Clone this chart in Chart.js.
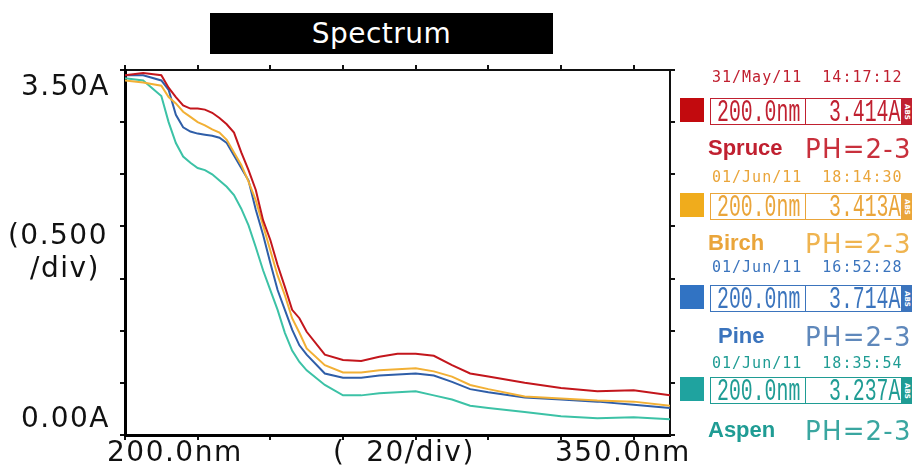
<!DOCTYPE html>
<html>
<head>
<meta charset="utf-8">
<script src="https://cdn.jsdelivr.net/npm/chart.js@4/dist/chart.umd.min.js"></script>
<style>
  body { margin: 0; background: #fff; overflow: hidden; }
  #wrap { position: relative; width: 916px; height: 470px; }
  #chartbox { position: absolute; left: 0; top: 0; width: 916px; height: 470px; }
  .lbl { position: absolute; font-family: "DejaVu Sans", sans-serif; color: #111; white-space: pre; line-height: 1; }
  #title { position: absolute; left: 210px; top: 13px; width: 343px; height: 41px; background: #000;
           color: #fff; font-family: "DejaVu Sans", sans-serif; font-size: 28px; letter-spacing: 0.5px; text-align: center; line-height: 41px; }
  .date { position: absolute; left: 712px; font-family: "DejaVu Sans Mono", monospace; font-size: 15px; letter-spacing: 1px; white-space: pre; line-height: 1; }
  .sw { position: absolute; left: 680px; width: 24px; height: 24px; }
  .box { position: absolute; left: 710px; width: 192px; height: 27px; border: 1.5px solid; box-sizing: border-box; overflow: hidden; }
  .box .div { position: absolute; left: 94px; top: 0; bottom: 0; border-left: 1.5px solid; }
  .box .txt { position: absolute; top: -2px; font-family: "Liberation Mono", monospace; font-size: 31px; line-height: 1;
              transform: scaleX(0.64); transform-origin: left top; white-space: pre; }
  .tag { position: absolute; left: 902px; width: 10px; height: 27px; color: #fff; font-size: 7px; font-family: "DejaVu Sans", sans-serif;
         writing-mode: vertical-rl; text-align: center; line-height: 10px; font-weight: bold; }
  .name { position: absolute; font-family: "Liberation Sans", sans-serif; font-weight: bold; font-size: 22px; line-height: 1; }
  .ph { position: absolute; left: 805px; font-family: "DejaVu Sans", sans-serif; font-size: 26px; letter-spacing: 1.2px; line-height: 1; white-space: pre; }
</style>
</head>
<body>
<div id="wrap">
  <div id="chartbox"><canvas id="spec"></canvas></div>
  <div id="title">Spectrum</div>
  <div id="panel"></div>
</div>
<script>
// wavelengths (nm) shared by all four scans
const wavelengths = [200, 205, 210, 212, 214, 216, 218, 220, 222, 224, 226, 228, 230, 232, 234, 236, 238, 240,
  242, 244, 246, 248, 250, 255, 260, 265, 270, 275, 280, 285, 290, 295, 300, 310, 320, 330, 340, 350];

// absorbance (A)
const spruce = [3.45, 3.47, 3.45, 3.33, 3.24, 3.16, 3.13, 3.13, 3.12, 3.09, 3.04, 2.98, 2.90, 2.71, 2.54, 2.35, 2.06, 1.87,
  1.63, 1.42, 1.20, 1.12, 0.99, 0.77, 0.72, 0.71, 0.75, 0.78, 0.78, 0.76, 0.67, 0.59, 0.56, 0.50, 0.45, 0.42, 0.43, 0.38];
const birch = [3.40, 3.38, 3.35, 3.24, 3.18, 3.10, 3.05, 3.00, 2.97, 2.93, 2.90, 2.83, 2.71, 2.59, 2.43, 2.25, 2.01, 1.77,
  1.53, 1.34, 1.12, 0.98, 0.83, 0.67, 0.60, 0.60, 0.62, 0.63, 0.64, 0.61, 0.56, 0.48, 0.44, 0.37, 0.35, 0.33, 0.32, 0.28];
const pine = [3.45, 3.45, 3.40, 3.31, 3.07, 2.95, 2.91, 2.89, 2.88, 2.87, 2.85, 2.80, 2.68, 2.56, 2.44, 2.16, 1.92, 1.65,
  1.39, 1.20, 1.01, 0.86, 0.77, 0.59, 0.55, 0.55, 0.57, 0.58, 0.59, 0.57, 0.51, 0.44, 0.41, 0.36, 0.34, 0.32, 0.29, 0.26];
const aspen = [3.42, 3.40, 3.25, 3.00, 2.80, 2.67, 2.61, 2.56, 2.54, 2.50, 2.44, 2.38, 2.30, 2.17, 2.01, 1.80, 1.58, 1.39,
  1.20, 0.98, 0.81, 0.70, 0.62, 0.48, 0.38, 0.38, 0.40, 0.41, 0.42, 0.38, 0.34, 0.28, 0.26, 0.22, 0.18, 0.16, 0.17, 0.15];

const names = ["Spruce", "Birch", "Pine", "Aspen"];
const phText = ["PH=2-3", "PH=2-3", "PH=2-3", "PH=2-3"];
const dates = ["31/May/11  14:17:12", "01/Jun/11  18:14:30", "01/Jun/11  16:52:28", "01/Jun/11  18:35:54"];
const cursorNm = ["200.0nm", "200.0nm", "200.0nm", "200.0nm"];
const cursorAbs = ["3.414A", "3.413A", "3.714A", "3.237A"];

const lineColors = ["#c3161c", "#f2b035", "#2f5ea8", "#3cc2a6"];
const swatchColors = ["#c20a0e", "#f0ac1c", "#3173c3", "#1fa39f"];
const textColors = ["#c02030", "#eaa53a", "#3b74bd", "#1f9c94"];
const phColors = ["#c8303c", "#efb450", "#5f88bb", "#3aa6a0"];

const xTicks = [200, 220, 240, 260, 280, 300, 320, 340];
const yTicks = [0, 0.5, 1, 1.5, 2, 2.5, 3, 3.5];

// text around the frame
const labels = [
  { t: "3.50A", x: 110, y: 98, align: "right" },
  { t: "(0.500", x: 108, y: 247, align: "right" },
  { t: "/div)", x: 100, y: 280, align: "right" },
  { t: "0.00A", x: 110, y: 430, align: "right" },
  { t: "200.0nm", x: 107, y: 464, align: "left" },
  { t: "(  20/div)", x: 333, y: 464, align: "left" },
  { t: "350.0nm", x: 555, y: 464, align: "left" },
];
const wrap = document.getElementById('wrap');
labels.forEach(function(l) {
  const d = document.createElement('div');
  d.className = 'lbl';
  d.textContent = l.t;
  d.style.fontSize = '28px';
  d.style.letterSpacing = '1.5px';
  // y is the baseline
  d.style.top = (l.y - 28 * 0.93) + 'px';
  if (l.align == "right") {
    d.style.right = (916 - l.x) + 'px';
  } else {
    d.style.left = l.x + 'px';
  }
  wrap.appendChild(d);
});

// legend panel on the right (rows are not evenly spaced on the printout)
const dateTop = [70, 170, 260, 356];
const boxTop = [98, 193, 285, 377];
const nameTop = [137, 232, 325, 419];
const panel = document.getElementById('panel');
for (let i = 0; i < names.length; i++) {
  let html = '';
  html += '<div class="date" style="top:' + dateTop[i] + 'px;color:' + textColors[i] + '">' + dates[i] + '</div>';
  html += '<div class="sw" style="top:' + boxTop[i] + 'px;background:' + swatchColors[i] + '"></div>';
  html += '<div class="box" style="top:' + boxTop[i] + 'px;border-color:' + textColors[i] + ';color:' + textColors[i] + '">' +
          '<div class="div"></div>' +
          '<span class="txt" style="left:6px">' + cursorNm[i] + '</span>' +
          '<span class="txt" style="left:118px">' + cursorAbs[i] + '</span></div>';
  html += '<div class="tag" style="top:' + boxTop[i] + 'px;background:' + textColors[i] + '">ABS</div>';
  html += '<div class="name" style="left:' + (i == 2 ? 718 : 708) + 'px;top:' + nameTop[i] + 'px;color:' + textColors[i] + '">' + names[i] + '</div>';
  html += '<div class="ph" style="top:' + (nameTop[i] - 1) + 'px;color:' + phColors[i] + '">' + phText[i] + '</div>';
  panel.insertAdjacentHTML('beforeend', html);
}

// build datasets from the named arrays
const series = [spruce, birch, pine, aspen];
const datasets = [];
for (let i = 0; i < series.length; i++) {
  const pts = [];
  for (let j = 0; j < wavelengths.length; j++) {
    pts.push({ x: wavelengths[j], y: series[i][j] });
  }
  datasets.push({
    label: names[i],
    data: pts,
    borderColor: lineColors[i],
    backgroundColor: lineColors[i],
    borderWidth: 2,
    pointRadius: 0,
    tension: 0,
  });
}

function fixTicks(list) {
  return function(scale) {
    scale.ticks = list.map(function(v) { return { value: v }; });
  };
}

const frameGrid = { display: true, drawOnChartArea: false, drawTicks: true, tickLength: 5, color: '#111', lineWidth: 2 };

const ctx = document.getElementById('spec').getContext('2d');
const myChart = new Chart(ctx, {
  type: 'line',
  data: { datasets: datasets },
  options: {
    responsive: true,
    maintainAspectRatio: false,
    animation: false,
    layout: { padding: { left: 120, top: 65, right: 241, bottom: 30 } },
    plugins: { legend: { display: false }, tooltip: { enabled: false } },
    scales: {
      x: {
        type: 'linear', min: 200, max: 350, position: 'bottom',
        afterBuildTicks: fixTicks(xTicks),
        ticks: { display: false },
        grid: frameGrid,
        border: { display: true, color: '#000', width: 3 },
      },
      x2: {
        type: 'linear', min: 200, max: 350, position: 'top',
        afterBuildTicks: fixTicks(xTicks),
        ticks: { display: false },
        grid: frameGrid,
        border: { display: true, color: '#111', width: 2 },
      },
      y: {
        type: 'linear', min: 0, max: 3.5, position: 'left',
        afterBuildTicks: fixTicks(yTicks),
        ticks: { display: false },
        grid: frameGrid,
        border: { display: true, color: '#000', width: 3 },
      },
      y2: {
        type: 'linear', min: 0, max: 3.5, position: 'right',
        afterBuildTicks: fixTicks(yTicks),
        ticks: { display: false },
        grid: frameGrid,
        border: { display: true, color: '#111', width: 2 },
      },
    },
  },
});
</script>
</body>
</html>
